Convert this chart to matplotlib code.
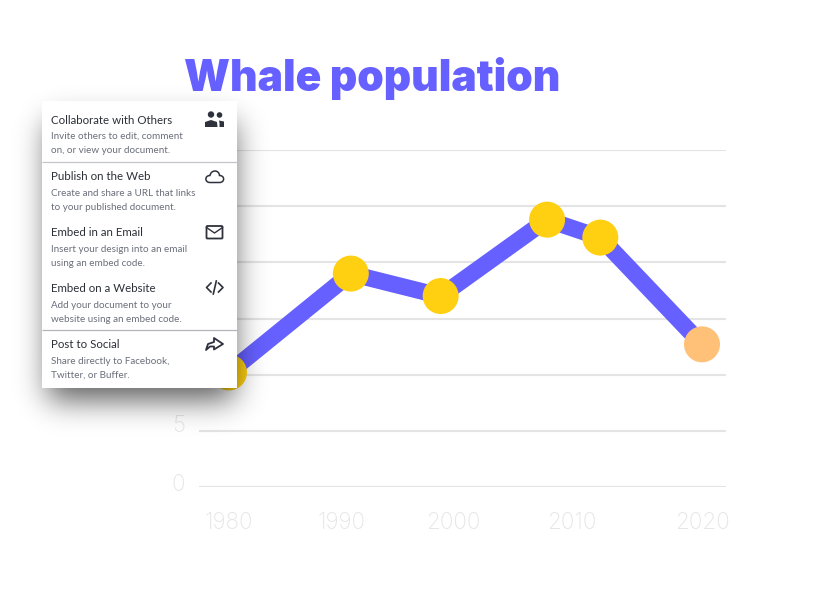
import numpy as np
import matplotlib
matplotlib.use("Agg")
import matplotlib.pyplot as plt
from matplotlib.patches import Rectangle, Circle, Polygon, PathPatch, FancyBboxPatch
from matplotlib.path import Path
from matplotlib.transforms import ScaledTranslation

# ---- data ----
years = [1980, 1990.3, 1997.9, 2006.9, 2011.4, 2020]
population = [10.2, 19.0, 17.0, 23.8, 22.2, 12.7]
point_colors = ['#FFD011', '#FFD011', '#FFD011', '#FFD011', '#FFD011', '#FFC077']
x_tick_pos = [1980, 1989.5, 1999.0, 2009.0, 2020]
x_tick_labels = ['1980', '1990', '2000', '2010', '2020']
y_ticks = [0, 5, 10, 15, 20, 25, 30]
y_tick_labels = ['0', '5', '', '', '', '', '']  # the others sit hidden behind the menu
title = 'Whale population'
menu_heads = ['Collaborate with Others', 'Publish on the Web', 'Embed in an Email',
              'Embed on a Website', 'Post to Social']
menu_lines = [['Invite others to edit, comment', 'on, or view your document.'],
              ['Create and share a URL that links', 'to your published document.'],
              ['Insert your design into an email', 'using an embed code.'],
              ['Add your document to your', 'website using an embed code.'],
              ['Share directly to Facebook,', 'Twitter, or Buffer.']]

PURPLE = '#6560FF'
GRID = '#E4E4E4'
LABEL = '#E6E6E6'
W, H = 838, 600
fig = plt.figure(figsize=(W / 100, H / 100), dpi=100, facecolor='white')

# plot area: gridlines run 199..726 px, y=0 at 487 px, y=30 at 150 px
ax = fig.add_axes([199 / W, 1 - 487 / H, (726 - 199) / W, (487 - 150) / H])
px_per_year = (702 - 229) / 40
ax.set_xlim(1980 - (229 - 199) / px_per_year, 2020 + (726 - 702) / px_per_year)
ax.set_ylim(0, 30)
for s in ax.spines.values():
    s.set_visible(False)
ax.set_yticks(y_ticks)
ax.set_yticklabels(y_tick_labels, family='Inter', fontsize=16.2, color=LABEL, weight='light')
ax.set_xticks(x_tick_pos)
ax.set_xticklabels(x_tick_labels, family='Inter', fontsize=16.2, color=LABEL, weight='light')
ax.tick_params(axis='both', length=0)
ax.tick_params(axis='x', pad=18)
ax.tick_params(axis='y', pad=10)
labs = ax.get_yticklabels()
labs[0].set_transform(labs[0].get_transform() + ScaledTranslation(0, 3.5 / 72, fig.dpi_scale_trans))
labs[1].set_transform(labs[1].get_transform() + ScaledTranslation(0, 5 / 72, fig.dpi_scale_trans))
ax.grid(axis='y', color=GRID, linewidth=1.5)
ax.set_axisbelow(True)
ax.plot(years, population, color=PURPLE, linewidth=12, solid_joinstyle='miter', zorder=3, clip_on=False)
ax.scatter(years, population, s=(36 * 0.72) ** 2, c=point_colors, linewidths=0, zorder=4, clip_on=False)

fig.text(184 / W, 1 - 78 / H, title, family='Inter', weight='black', fontsize=30.6, color=PURPLE,
         va='center', ha='left')

# overlay in pixel coordinates
ov = fig.add_axes([0, 0, 1, 1], zorder=5)
ov.set_xlim(0, W)
ov.set_ylim(H, 0)
ov.axis('off')
ov.patch.set_alpha(0)

# soft drop shadow
mask = np.zeros((H, W))
mask[122:400, 48:234] = 1.0
sigma = 15
k = np.exp(-0.5 * (np.arange(-50, 51) / sigma) ** 2)
k /= k.sum()
blur = np.apply_along_axis(lambda r: np.convolve(r, k, mode='same'), 0, mask)
blur = np.apply_along_axis(lambda r: np.convolve(r, k, mode='same'), 1, blur)
rgba = np.zeros((H, W, 4))
rgba[..., 3] = blur * 0.64
ov.imshow(rgba, extent=(0, W, H, 0), interpolation='bilinear', aspect='auto', zorder=1)
ov.set_xlim(0, W)
ov.set_ylim(H, 0)

ov.add_patch(Rectangle((42, 101), 195, 287, fc='white', ec='none', zorder=2))
for y, c in [(161.5, '#C4C4CC'), (329.5, '#B4B4BE')]:
    ov.plot([42, 237], [y, y], color=c, lw=0.9, zorder=3, solid_capstyle='butt')

head_y = [120, 176.5, 232.5, 288.5, 345]
sub_y = [[136.5, 150.5], [193, 207], [249, 263], [305, 319], [361.5, 375.5]]
for h, ls, hy, sy in zip(menu_heads, menu_lines, head_y, sub_y):
    ov.text(51, hy, h, family='Lato', fontsize=8.25, color='#2B2F38', va='center', ha='left', zorder=3)
    for l, y in zip(ls, sy):
        ov.text(51, y, l, family='Lato', fontsize=7.1, color='#6A6F7A', va='center', ha='left', zorder=3)

IC = '#2E323C'
# people icon
ov.add_patch(Circle((211, 114.5), 3.2, fc=IC, ec='none', zorder=3))
ov.add_patch(Circle((219.5, 115), 2.8, fc=IC, ec='none', zorder=3))
ov.add_patch(PathPatch(Path([(205, 127), (205, 122), (211, 120), (217, 122), (217.5, 127), (205, 127)],
                            [1, 2, 2, 2, 2, 79]), fc=IC, ec='none', zorder=3))
ov.add_patch(PathPatch(Path([(219, 120.5), (224, 121.5), (224, 127), (219.5, 127), (219.5, 123), (219, 120.5)],
                            [1, 2, 2, 2, 2, 79]), fc=IC, ec='none', zorder=3))
# cloud icon
ov.add_patch(PathPatch(Path([(210, 182.5), (204.5, 182.5), (204.5, 175.5), (210, 175.5),
                             (211, 169.5), (219, 169.5), (219.5, 175.5),
                             (225, 175.5), (225, 182.5), (219.5, 182.5), (210, 182.5)],
                            [1, 4, 4, 4, 4, 4, 4, 4, 4, 4, 79]),
                       fc='none', ec=IC, lw=1.1, zorder=3))
# envelope icon
ov.add_patch(FancyBboxPatch((206.5, 226), 16, 12.5, boxstyle='round,pad=0,rounding_size=1',
                            fc='none', ec=IC, lw=1.3, zorder=3))
ov.plot([206.5, 214.5, 222.5], [227.5, 233, 227.5], color=IC, lw=1.0, zorder=3)
# code icon
ov.plot([211, 206.5, 211], [283, 287.5, 292], color=IC, lw=1.2, zorder=3)
ov.plot([218.5, 223, 218.5], [283, 287.5, 292], color=IC, lw=1.2, zorder=3)
ov.plot([213.3, 216.3], [294, 281], color=IC, lw=1.2, zorder=3)
# share icon
share = [(206, 350), (208, 344), (214, 342), (214, 338), (223, 344), (214, 349.5), (214, 346.5), (210, 346.5)]
ov.add_patch(Polygon(share, closed=True, fc='none', ec=IC, lw=1.3, joinstyle='round', zorder=3))

fig.savefig('out.png', dpi=100, facecolor='white')
